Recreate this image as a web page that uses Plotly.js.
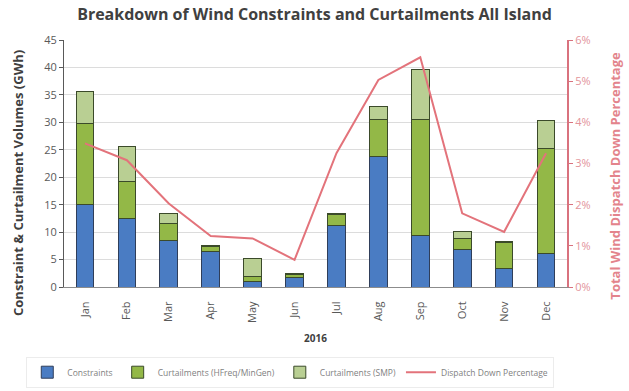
<!DOCTYPE html>
<html>
<head>
<meta charset="utf-8">
<script src="https://cdn.plot.ly/plotly-3.0.1.min.js"></script>
<style>
  html, body { margin: 0; padding: 0; background: #ffffff; }
  #chart { width: 629px; height: 391px; }
</style>
</head>
<body>
<div id="chart"></div>
<script>
// Monthly wind constraint / curtailment volumes (GWh) and dispatch-down share, 2016
const months = ['Jan', 'Feb', 'Mar', 'Apr', 'May', 'Jun', 'Jul', 'Aug', 'Sep', 'Oct', 'Nov', 'Dec'];
const constraints = [15.0, 12.5, 8.4, 6.5, 1.0, 1.7, 11.2, 23.8, 9.4, 6.9, 3.4, 6.1];
const curtailHFreq = [14.8, 6.7, 3.2, 0.8, 0.9, 0.6, 2.1, 6.8, 21.1, 2.0, 4.7, 19.2];
const curtailSMP = [5.9, 6.4, 1.8, 0.2, 3.3, 0.2, 0.1, 2.3, 9.2, 1.3, 0.1, 5.0];
const dispatchDown = [0.0349, 0.0308, 0.0203, 0.0124, 0.0118, 0.0066, 0.0325, 0.0503, 0.0558, 0.0179, 0.0134, 0.0325];

const seriesNames = ['Constraints', 'Curtailments (HFreq/MinGen)', 'Curtailments (SMP)', 'Dispatch Down Percentage'];
const chartTitle = 'Breakdown of Wind Constraints and Curtailments All Island';
const yTitle = 'Constraint & Curtailment Volumes (GWh)';
const y2Title = 'Total Wind Dispatch Down Percentage';
const xTitle = '2016';

const outline = { color: '#3b4a2a', width: 1 };
const FONT = 'Open Sans, Liberation Sans, sans-serif';

const traces = [
  { type: 'bar', name: seriesNames[0], x: months, y: constraints,
    marker: { color: '#4a7cc3', line: { color: '#2f3e5a', width: 1 } } },
  { type: 'bar', name: seriesNames[1], x: months, y: curtailHFreq,
    marker: { color: '#93b847', line: outline } },
  { type: 'bar', name: seriesNames[2], x: months, y: curtailSMP,
    marker: { color: '#b9cf93', line: outline } },
  { type: 'scatter', mode: 'lines', name: seriesNames[3], x: months, y: dispatchDown,
    yaxis: 'y2', line: { color: '#e3737b', width: 2 } }
];

const layout = {
  width: 629, height: 391,
  margin: { l: 64, r: 62, t: 40, b: 104, autoexpand: false },
  paper_bgcolor: '#ffffff', plot_bgcolor: '#ffffff',
  barmode: 'stack', bargap: 0.58,
  font: { family: FONT, color: '#595959', size: 11 },
  title: {
    text: '<b>' + chartTitle + '</b>',
    font: { family: FONT, size: 16, color: '#404040' },
    x: 0.5, xanchor: 'center', y: 0.964, yanchor: 'middle'
  },
  xaxis: {
    type: 'category',
    tickangle: -90,
    tickfont: { size: 11, color: '#595959' },
    ticklabelstandoff: 9,
    showline: true, linecolor: '#8c8c8c', linewidth: 1,
    ticks: '', showgrid: false
  },
  yaxis: {
    range: [0, 45], dtick: 5,
    showline: true, linecolor: '#595959', linewidth: 1,
    ticks: 'outside', ticklen: 4, tickcolor: '#595959',
    gridcolor: '#dcdcdc', zeroline: false,
    tickfont: { size: 11, color: '#595959' }
  },
  yaxis2: {
    overlaying: 'y', side: 'right',
    range: [0, 0.06], dtick: 0.01, tickformat: '.0%',
    showline: true, linecolor: '#d9727e', linewidth: 2,
    ticks: 'outside', ticklen: 4, tickcolor: '#d9727e',
    showgrid: false, zeroline: false,
    tickfont: { size: 11, color: '#e3949b' }
  },
  annotations: [
    { text: '<b>' + yTitle + '</b>', textangle: -90,
      xref: 'paper', yref: 'paper', x: -0.09, y: 0.42, xanchor: 'center', yanchor: 'middle',
      showarrow: false, font: { size: 13, color: '#404040' } },
    { text: '<b>' + y2Title + '</b>', textangle: -90,
      xref: 'paper', yref: 'paper', x: 1.095, y: 0.45, xanchor: 'center', yanchor: 'middle',
      showarrow: false, font: { size: 13, color: '#e3848c' } },
    { text: '<b>' + xTitle + '</b>',
      xref: 'paper', yref: 'paper', x: 0.5, y: -0.207, xanchor: 'center', yanchor: 'middle',
      showarrow: false, font: { size: 10, color: '#404040' } }
  ],
  showlegend: true,
  legend: {
    orientation: 'h', x: -0.075, xanchor: 'left', y: -0.345, yanchor: 'middle',
    font: { family: FONT, size: 8.5, color: '#7f7f7f' },
    traceorder: 'normal',
    bordercolor: '#ececec', borderwidth: 1
  }
};

Plotly.newPlot('chart', traces, layout, { displayModeBar: false, staticPlot: true });
</script>
</body>
</html>
